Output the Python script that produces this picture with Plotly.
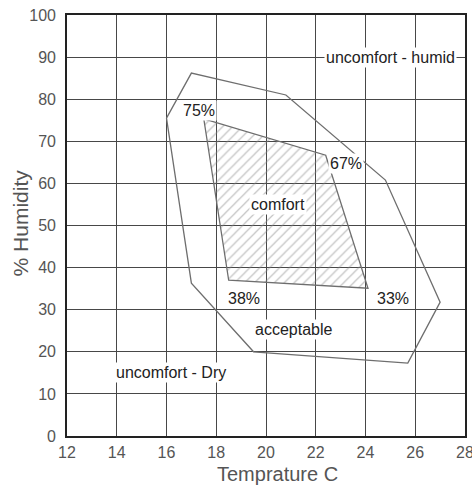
import plotly.graph_objects as go

# Acceptable zone (outer polygon)
outer_temp = [16.0, 17.0, 20.8, 24.8, 27.0, 25.7, 19.5, 17.0, 16.0]
outer_hum = [75.5, 86.2, 81.0, 60.8, 31.8, 17.3, 20.0, 36.3, 75.5]

# Comfort zone (hatched polygon)
comfort_temp = [17.5, 22.4, 24.1, 18.5, 17.5]
comfort_hum = [75.3, 66.7, 35.1, 37.0, 75.3]

# Labels
label_text = ["uncomfort - humid", "comfort", "acceptable", "uncomfort - Dry", "75%", "67%", "38%", "33%"]
label_temp = [25.0, 20.5, 21.1, 16.2, 17.3, 23.2, 19.1, 25.1]
label_hum = [90.0, 54.9, 25.4, 15.2, 77.4, 64.8, 32.6, 32.6]

x_ticks = [12, 14, 16, 18, 20, 22, 24, 26, 28]
y_ticks = [0, 10, 20, 30, 40, 50, 60, 70, 80, 90, 100]

FONT = "Liberation Sans, Arial"

fig = go.Figure()
fig.add_trace(go.Scatter(
    x=outer_temp, y=outer_hum, mode="lines",
    line=dict(color="#6e6e6e", width=1.3), hoverinfo="skip", showlegend=False))
fig.add_trace(go.Scatter(
    x=comfort_temp, y=comfort_hum, mode="lines", fill="toself",
    fillcolor="rgba(0,0,0,0)",
    fillpattern=dict(shape="/", fgcolor="#8a8a8a", bgcolor="rgba(0,0,0,0)", size=7, solidity=0.18),
    line=dict(color="#6e6e6e", width=1.3), hoverinfo="skip", showlegend=False))

for t, x, y in zip(label_text, label_temp, label_hum):
    fig.add_annotation(x=x, y=y, text=t, showarrow=False,
                       font=dict(family=FONT, size=16, color="#222"),
                       bgcolor="white", borderpad=1)

# axis titles
fig.add_annotation(xref="paper", yref="paper", x=0.53, y=-0.091, yanchor="middle",
                   text="Temprature C", showarrow=False,
                   font=dict(family=FONT, size=20, color="#555"))
fig.add_annotation(xref="paper", yref="paper", x=-0.118, y=0.505, xanchor="center",
                   textangle=-90, text="% Humidity", showarrow=False,
                   font=dict(family=FONT, size=21, color="#555"))

axis_common = dict(
    showgrid=True, gridcolor="#474747", gridwidth=1.4,
    showline=True, linecolor="#222", linewidth=1.6, mirror=True,
    zeroline=False, ticks="", automargin=False,
    ticklabeloverflow="allow",
    tickfont=dict(family=FONT, size=16, color="#555"),
)

fig.update_xaxes(range=[12, 28], tickvals=x_ticks, ticklabelstandoff=1, **axis_common)
fig.update_yaxes(range=[0, 100], tickvals=y_ticks, ticklabelstandoff=6, **axis_common)

fig.update_layout(
    width=472, height=485,
    margin=dict(l=67, r=7, t=15, b=49),
    paper_bgcolor="white", plot_bgcolor="white",
    showlegend=False,
)

# remove the browser's default page margin and scrollbars so the figure fills the window
fig.write_html(
    "out.html",
    config={"displayModeBar": False},
    post_script="document.body.style.margin='0';document.body.style.overflow='hidden';",
)
